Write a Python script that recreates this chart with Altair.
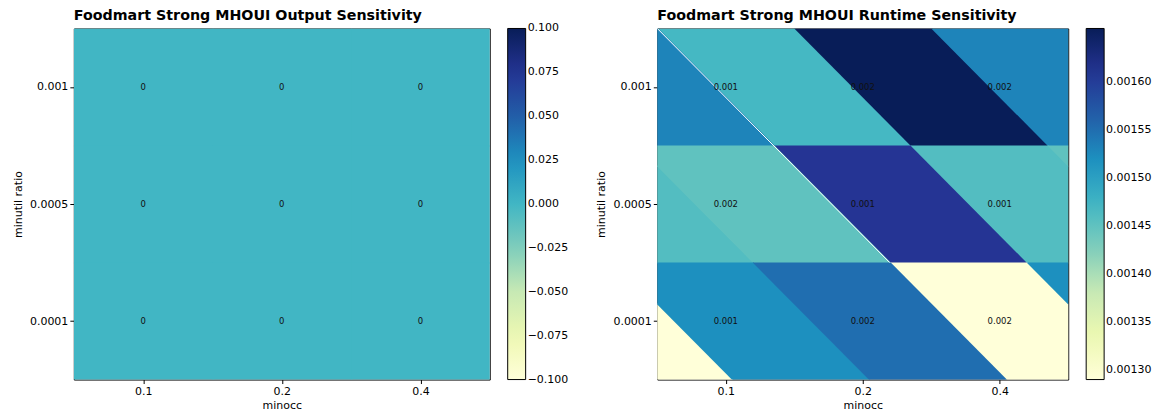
import json
import altair as alt
import pandas as pd

# ---- data ----
minocc_labels = ["0.1", "0.2", "0.4"]
minutil_labels = ["0.001", "0.0005", "0.0001"]   # rows, top to bottom

output_values = [
    [0.0, 0.0, 0.0],
    [0.0, 0.0, 0.0],
    [0.0, 0.0, 0.0],
]
runtime_values = [
    [0.00147, 0.001656, 0.00153],
    [0.00161, 0.00146, 0.00145],
    [0.00129, 0.00152, 0.00155],
]
output_ticks = [-0.1, -0.075, -0.05, -0.025, 0.0, 0.025, 0.05, 0.075, 0.1]
runtime_ticks = [0.0013, 0.00135, 0.0014, 0.00145, 0.0015, 0.00155, 0.0016]

output_title = "Foodmart Strong MHOUI Output Sensitivity"
runtime_title = "Foodmart Strong MHOUI Runtime Sensitivity"

# ---- style constants ----
SHEAR = 0.848         # horizontal skew of the runtime image (columns per row)
OVERLAP = 0.008       # tiny overlap between neighbouring cells to hide seams
FONT = "DejaVu Sans"
YLGNBU = ["#ffffd9", "#edf8b1", "#c7e9b4", "#7fcdbb", "#41b6c4",
          "#1d91c0", "#225ea8", "#253494", "#081d58"]

ncol = len(minocc_labels)
nrow = len(minutil_labels)


def cmap_scale(lo, hi):
    n = len(YLGNBU) - 1
    stops = [lo + (hi - lo) * i / n for i in range(n + 1)]
    return alt.Scale(type="linear", domain=stops, range=YLGNBU, interpolate="rgb")


# ---- tables ----
cells_out = pd.DataFrame(
    [{"r": r, "c": c, "value": output_values[r][c],
      "x0": c - 0.5, "x1": c + 0.5 + OVERLAP,
      "y0": r - 0.5, "y1": r + 0.5 + OVERLAP}
     for r in range(nrow) for c in range(ncol)]
)
cells_run = pd.DataFrame(
    [{"r": r, "c": c, "value": runtime_values[r][c]}
     for r in range(nrow) for c in range(ncol)]
)

poly_rows = []
pid = 0
for r in range(nrow):
    for c in range(ncol):
        for k in (-1, 0, 1):
            for yy in (r - 0.5, r + 0.5 + OVERLAP):
                xa = c + ncol * k - 0.5 + SHEAR * (yy + 0.5)
                poly_rows.append({"pid": pid, "value": runtime_values[r][c],
                                  "yy": yy, "xa": xa, "xb": xa + 1 + OVERLAP})
            pid += 1
polys = pd.DataFrame(poly_rows)

seam = pd.DataFrame([{"yy": yy, "xs": -0.5 + SHEAR * (yy + 0.5)}
                     for yy in (-0.5, 1.5)])

# ---- scales / axes ----
xscale = alt.Scale(domain=[-0.5, ncol - 0.5], nice=False, zero=False)
yscale = alt.Scale(domain=[-0.5, nrow - 0.5], nice=False, zero=False, reverse=True)
xaxis = alt.Axis(values=list(range(ncol)), title="minocc",
                 labelExpr=json.dumps(minocc_labels) + "[datum.value]",
                 titlePadding=3)
yaxis = alt.Axis(values=list(range(nrow)), title="minutil ratio",
                 labelExpr=json.dumps(minutil_labels) + "[datum.value]",
                 titlePadding=6)

eps = 1e-9
out_lo, out_hi = min(output_ticks) - eps, max(output_ticks) + eps
run_lo = min(min(v) for v in runtime_values)
run_hi = max(max(v) for v in runtime_values)

# ---- left panel ----
left_rect = alt.Chart(cells_out).mark_rect(clip=True).encode(
    x=alt.X("x0:Q", scale=xscale, axis=xaxis),
    x2="x1:Q",
    y=alt.Y("y0:Q", scale=yscale, axis=yaxis),
    y2="y1:Q",
    color=alt.Color("value:Q", scale=cmap_scale(out_lo, out_hi),
                    legend=alt.Legend(values=output_ticks, format=".3f",
                                      title=None, type="gradient")),
)
left_text = alt.Chart(cells_out).mark_text(fontSize=8.5, color="#111").encode(
    x=alt.X("c:Q", scale=xscale),
    y=alt.Y("r:Q", scale=yscale),
    text=alt.Text("value:Q", format=".3~f"),
)
left = alt.layer(left_rect, left_text).properties(
    width=417, height=352,
    title=alt.Title(output_title, anchor="start", frame="group"))

# ---- right panel ----
right_area = alt.Chart(polys).mark_area(orient="horizontal", clip=True).encode(
    y=alt.Y("yy:Q", scale=yscale, axis=yaxis),
    x=alt.X("xa:Q", scale=xscale, axis=xaxis, stack=False),
    x2="xb:Q",
    detail="pid:N",
    color=alt.Color("value:Q", scale=cmap_scale(run_lo, run_hi),
                    legend=alt.Legend(values=runtime_ticks, format=".5f",
                                      title=None, type="gradient")),
)
right_seam = alt.Chart(seam).mark_line(color="white", strokeWidth=1, clip=True).encode(
    x=alt.X("xs:Q", scale=xscale),
    y=alt.Y("yy:Q", scale=yscale),
)
right_text = alt.Chart(cells_run).mark_text(fontSize=8.5, color="#111").encode(
    x=alt.X("c:Q", scale=xscale),
    y=alt.Y("r:Q", scale=yscale),
    text=alt.Text("value:Q", format=".3f"),
)
right = alt.layer(right_area, right_seam, right_text).properties(
    width=412, height=352,
    title=alt.Title(runtime_title, anchor="start", frame="group"))

chart = (
    alt.hconcat(left, right, spacing=26)
    .resolve_scale(color="independent")
    .properties(padding={"left": 4, "top": 0, "right": 0, "bottom": 0})
    .configure(font=FONT)
    .configure_view(stroke="black", strokeWidth=1)
    .configure_axis(domain=False, grid=False, tickColor="black", tickSize=4,
                    labelFontSize=11, titleFontSize=11, titleFontWeight="normal",
                    labelColor="black", titleColor="black", labelPadding=2)
    .configure_legend(gradientLength=352, gradientThickness=18,
                      gradientStrokeColor="black", gradientStrokeWidth=1,
                      labelFontSize=11, labelColor="black", labelOffset=10,
                      offset=18, padding=0)
    .configure_title(fontSize=14.3, fontWeight="bold", color="black", offset=5)
)

chart.save("out.html", embed_options={"renderer": "svg", "actions": False})
